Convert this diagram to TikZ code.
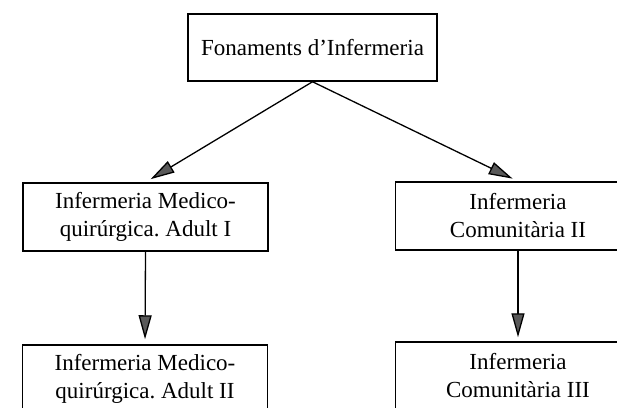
\documentclass[tikz,border=0pt]{standalone}
\usepackage{fontspec}
\setmainfont{Liberation Serif}
\usetikzlibrary{arrows.meta}
\frenchspacing
\begin{document}
\begin{tikzpicture}[x=1pt,y=-1pt,
  box/.style={draw, line width=1.5pt, align=center, inner sep=0pt,
    minimum width=245pt, minimum height=68pt, font=\fontsize{23}{28}\selectfont},
  arr/.style={-{Triangle[length=24pt,width=13pt,fill=black!65]}, line width=1.3pt}]
\useasboundingbox (0,0) rectangle (617,407);
\clip (0,0) rectangle (617,407);

\node[box, minimum width=249pt, minimum height=67pt] (fona) at (312.5,47.5) {Fonaments d’Infermeria};

\node[box] (mq1) at (145.5,217) {Infermeria Medico-\\quirúrgica. Adult I};
\node[box] (com2) at (518,216) {Infermeria\\Comunitària II};

\node[box] (mq2) at (145,379) {Infermeria Medico-\\quirúrgica. Adult II};
\node[box] (com3) at (518,376) {Infermeria\\Comunitària III};

\draw[arr, shorten >=6pt] (fona.south) -- (mq1.north);
\draw[arr, shorten >=6pt] (fona.south) -- (com2.north);
\draw[arr, shorten >=5pt] (mq1.south) -- (mq2.north);
\draw[arr, shorten >=4pt] (com2.south) -- (com3.north);
\end{tikzpicture}
\end{document}
